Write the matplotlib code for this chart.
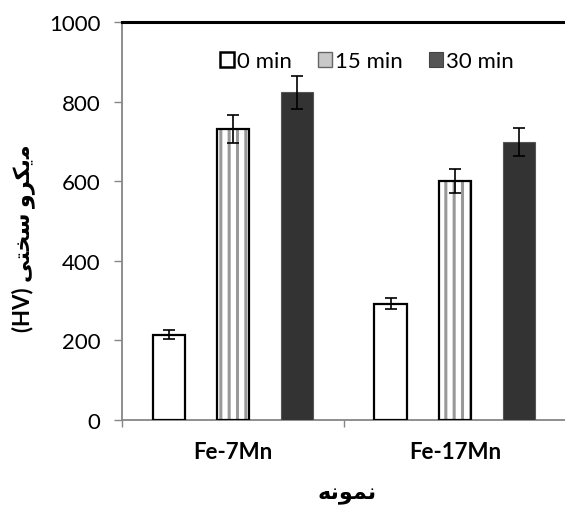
import matplotlib
matplotlib.use("Agg")
import matplotlib.pyplot as plt
import numpy as np
from matplotlib.ticker import FixedLocator
from matplotlib.patches import Patch

# ---- data ----
categories = ["Fe-7Mn", "Fe-17Mn"]
series_names = ["0 min", "15 min", "30 min"]
values_0 = [215, 293]
values_15 = [732, 602]
values_30 = [824, 700]
err_0 = [11, 14]
err_15 = [36, 30]
err_30 = [42, 35]
y_ticks = [0, 200, 400, 600, 800, 1000]

# Persian labels (Arabic presentation forms, visual order)
ylabel_text = "(HV) " + "\uFBFD\uFE98\uFEA8\uFEB3" + " " + "\uFEED\uFEAE\uFB91\uFBFE\uFEE3"
xlabel_text = "\uFEEA\uFEE7\uFEEE\uFEE4\uFEE7"

plt.rcParams['font.family'] = ['Lato', 'DejaVu Sans']
plt.rcParams['hatch.linewidth'] = 2.2

fig = plt.figure(figsize=(5.65, 5.06), dpi=100)
ax = fig.add_axes([0.2159, 0.168, 0.7858, 0.7856])

x = np.arange(len(categories))
w = 0.145
off = 0.29
ekw = dict(ecolor='black', elinewidth=1.2, capthick=1.2)

# 0 min
ax.bar(x - off, values_0, w, color='white', edgecolor='black', linewidth=1.6,
       yerr=err_0, capsize=4.5, error_kw=ekw, zorder=3)
# 15 min: striped
ax.bar(x, values_15, w, color='white', edgecolor='#999999', linewidth=0,
       hatch='||', zorder=3)
ax.bar(x, values_15, w, color='none', edgecolor='black', linewidth=1.6,
       yerr=err_15, capsize=4.5, error_kw=ekw, zorder=4)
# 30 min
ax.bar(x + off, values_30, w, color='#333333', edgecolor='#555555', linewidth=0.8,
       yerr=err_30, capsize=4.5, error_kw=ekw, zorder=3)

handles = [
    Patch(facecolor='white', edgecolor='black', linewidth=1.8),
    Patch(facecolor='#c8c8c8', edgecolor='#666666', linewidth=1.0),
    Patch(facecolor='#555555', edgecolor='#444444', linewidth=0.8),
]
ax.legend(handles, series_names, loc='center', bbox_to_anchor=(0.552, 0.903),
          ncol=3, frameon=False, fontsize=16, handlelength=0.6, handleheight=0.65,
          handletextpad=0.15, columnspacing=1.2, borderaxespad=0)

ax.set_xlim(-0.5, 1.5)
ax.set_ylim(0, 1000)
ax.set_yticks(y_ticks)
ax.tick_params(axis='y', direction='out', length=5.5, width=1.0, color='#868686',
               labelsize=16, pad=10)
ax.set_xticks(x)
ax.set_xticklabels(categories, fontsize=16, fontweight='bold')
ax.tick_params(axis='x', which='major', length=0, pad=15)
ax.xaxis.set_minor_locator(FixedLocator([-0.5, 0.5, 1.5]))
ax.tick_params(axis='x', which='minor', direction='out', length=5, width=1.0, color='#868686')

for s in ['left', 'bottom']:
    ax.spines[s].set_color('#868686')
    ax.spines[s].set_linewidth(1.3)
ax.spines['right'].set_visible(False)
ax.spines['top'].set_color('black')
ax.spines['top'].set_linewidth(2.2)

ax.set_ylabel(ylabel_text, fontsize=16, fontweight='bold', va='center')
ax.yaxis.set_label_coords(-0.223, 0.46)
ax.set_xlabel(xlabel_text, fontsize=16, fontweight='bold', va='center')
ax.xaxis.set_label_coords(0.507, -0.186)

fig.savefig("out.png", dpi=100)
